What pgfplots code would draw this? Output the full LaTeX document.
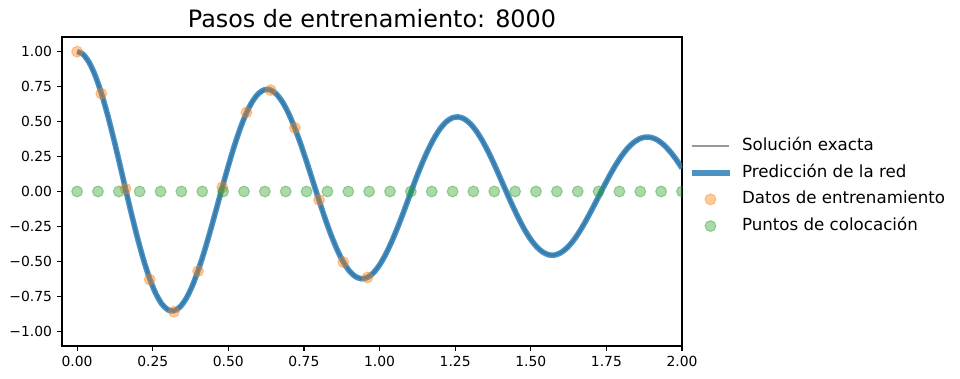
\documentclass[border=0pt]{standalone}
\usepackage{pgfplots}
\pgfplotsset{compat=1.18}
\usepackage{pgfplotstable}
\usepackage{fontspec}
\setmainfont{DejaVu Sans}
\definecolor{tabblue}{HTML}{1F77B4}
\definecolor{taborange}{HTML}{FF7F0E}
\definecolor{tabgreen}{HTML}{2CA02C}
\definecolor{exgray}{HTML}{808080}

\pgfplotstableread{
t y
0.00 1.0000
0.02 0.9802
0.04 0.9219
0.06 0.8284
0.08 0.7039
0.10 0.5540
0.12 0.3851
0.14 0.2044
0.16 0.0192
0.18 -0.1631
0.20 -0.3354
0.22 -0.4910
0.24 -0.6241
0.26 -0.7298
0.28 -0.8045
0.30 -0.8460
0.32 -0.8532
0.34 -0.8264
0.36 -0.7675
0.38 -0.6794
0.40 -0.5661
0.42 -0.4327
0.44 -0.2848
0.46 -0.1286
0.48 0.0296
0.50 0.1836
0.52 0.3272
0.54 0.4550
0.56 0.5623
0.58 0.6452
0.60 0.7010
0.62 0.7279
0.64 0.7254
0.66 0.6943
0.68 0.6364
0.70 0.5544
0.72 0.4521
0.74 0.3343
0.76 0.2049
0.78 0.0703
0.80 -0.0644
0.82 -0.1939
0.84 -0.3131
0.86 -0.4176
0.88 -0.5035
0.90 -0.5678
0.92 -0.6084
0.94 -0.6240
0.96 -0.6146
0.98 -0.5811
1.00 -0.5254
1.02 -0.4503
1.04 -0.3590
1.06 -0.2554
1.08 -0.1436
1.10 -0.0263
1.12 0.0897
1.14 0.1977
1.16 0.2955
1.18 0.3795
1.20 0.4484
1.22 0.4976
1.24 0.5261
1.26 0.5332
1.28 0.5191
1.30 0.4847
1.32 0.4318
1.34 0.3629
1.36 0.2812
1.38 0.1901
1.40 0.0925
1.42 -0.0064
1.44 -0.1031
1.46 -0.1936
1.48 -0.2750
1.50 -0.3435
1.52 -0.3970
1.54 -0.4337
1.56 -0.4534
1.58 -0.4540
1.60 -0.4368
1.62 -0.4027
1.64 -0.3534
1.66 -0.2908
1.68 -0.2177
1.70 -0.1381
1.72 -0.0544
1.74 0.0299
1.76 0.1112
1.78 0.1868
1.80 0.2532
1.82 0.3085
1.84 0.3503
1.86 0.3775
1.88 0.3892
1.90 0.3853
1.92 0.3662
1.94 0.3330
1.96 0.2873
1.98 0.2312
2.00 0.1669
}\curvedata

\pgfplotstableread{
t y
0.00 1.00
0.08 0.70
0.16 0.02
0.24 -0.63
0.32 -0.86
0.40 -0.57
0.48 0.03
0.56 0.565
0.64 0.725
0.72 0.455
0.80 -0.06
0.88 -0.505
0.96 -0.615
}\traindata

\pgfplotstableread{
t y
0.0000 0
0.0690 0
0.1379 0
0.2069 0
0.2759 0
0.3448 0
0.4138 0
0.4828 0
0.5517 0
0.6207 0
0.6897 0
0.7586 0
0.8276 0
0.8966 0
0.9655 0
1.0345 0
1.1034 0
1.1724 0
1.2414 0
1.3103 0
1.3793 0
1.4483 0
1.5172 0
1.5862 0
1.6552 0
1.7241 0
1.7931 0
1.8621 0
1.9310 0
2.0000 0
}\colocdata

\begin{document}
\begin{tikzpicture}
\useasboundingbox (-44.64pt,-23.76pt) rectangle (646.56pt,249.12pt);
\begin{axis}[
  at={(0pt,0pt)}, anchor=south west,
  scale only axis,
  width=446.4pt, height=222.5pt,
  xmin=-0.05, xmax=2.0,
  ymin=-1.105, ymax=1.105,
  xtick={0,0.25,0.5,0.75,1,1.25,1.5,1.75,2},
  xticklabels={0.00,0.25,0.50,0.75,1.00,1.25,1.50,1.75,2.00},
  ytick={-1,-0.75,-0.5,-0.25,0,0.25,0.5,0.75,1},
  yticklabels={−1.00,−0.75,−0.50,−0.25,0.00,0.25,0.50,0.75,1.00},
  tick align=outside,
  major tick length=3.5pt,
  tick style={black, line width=0.8pt},
  axis line style={line width=0.8pt},
  xtick pos=bottom, ytick pos=left,
  tick label style={font=\fontsize{10}{12}\selectfont},
  xticklabel style={inner sep=0pt, anchor=north, yshift=-3.5pt},
  yticklabel style={inner sep=0pt, anchor=east, xshift=-3.5pt},
  title={Pasos de entrenamiento: 8000},
  title style={at={(0.5,1)}, anchor=base, yshift=0.8pt, inner sep=0pt, font=\fontsize{17.2}{20}\selectfont},
  clip marker paths=true,
  legend image code/.code={\draw[mark repeat=2,mark phase=2,#1] plot coordinates {(0pt,0pt) (13.5pt,0pt) (27pt,0pt)};},
  legend cell align=left,
  legend style={draw=none, fill=none, at={(1.0112,0.5175)}, anchor=west,
    inner sep=0pt, outer sep=0pt,
    font=\fontsize{12}{14}\selectfont,
    nodes={inner sep=0pt, text height=9pt, text depth=2.8pt},
    row sep=7.4pt,
    /tikz/every odd column/.append style={column sep=7.2pt}},
]
\addplot[exgray, opacity=0.8, line width=2pt, mark=none] table[x=t,y=y] {\curvedata};
\addlegendentry{Solución exacta}
\addplot[tabblue, opacity=0.8, line width=4pt, mark=none, smooth] table[x=t,y=y] {\curvedata};
\addlegendentry{Predicción de la red}
\addplot[only marks, mark=*, mark size=3.9pt, color=taborange, line width=0.8pt, opacity=0.4, mark options={solid}] table[x=t,y=y] {\traindata};
\addlegendentry{Datos de entrenamiento}
\addplot[only marks, mark=*, mark size=3.9pt, color=tabgreen, line width=0.8pt, opacity=0.4, mark options={solid}] table[x=t,y=y] {\colocdata};
\addlegendentry{Puntos de colocación}
\end{axis}
\end{tikzpicture}
\end{document}
